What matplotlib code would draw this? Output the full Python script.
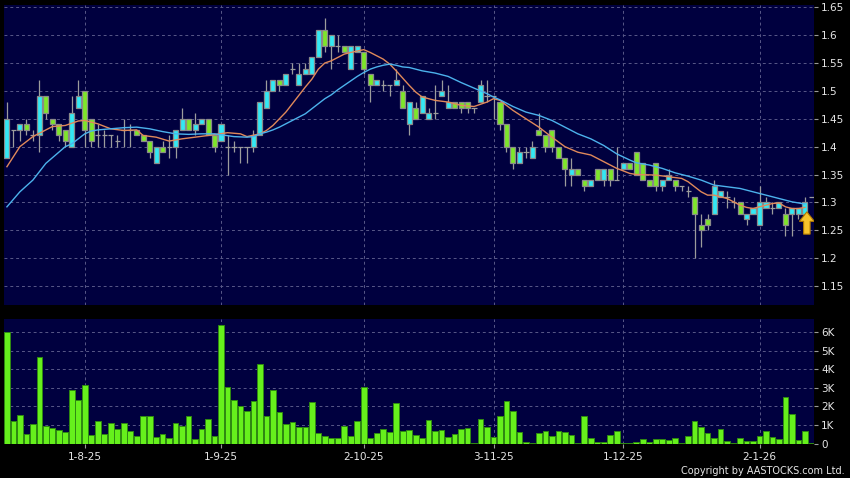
import matplotlib
matplotlib.use("Agg")
import matplotlib.pyplot as plt
from matplotlib.patches import FancyArrow
from matplotlib.ticker import FuncFormatter
import numpy as np

# ---- data (one entry per trading day) ----
opens = [1.38, 1.43, 1.43, 1.44, 1.42, 1.42, 1.49, 1.45, 1.44, 1.43,
         1.40, 1.47, 1.50, 1.45, 1.42, 1.42, 1.42, 1.41, 1.43, 1.43,
         1.43, 1.42, 1.41, 1.37, 1.40, 1.40, 1.40, 1.43, 1.45, 1.43,
         1.44, 1.45, 1.42, 1.41, 1.40, 1.40, 1.40, 1.40, 1.40, 1.42,
         1.47, 1.50, 1.52, 1.51, 1.54, 1.51, 1.53, 1.53, 1.56, 1.61,
         1.58, 1.58, 1.58, 1.54, 1.57, 1.57, 1.53, 1.51, 1.51, 1.51,
         1.51, 1.50, 1.44, 1.47, 1.46, 1.45, 1.46, 1.49, 1.47, 1.48,
         1.48, 1.48, 1.47, 1.48, 1.49, 1.49, 1.48, 1.44, 1.40, 1.37,
         1.39, 1.38, 1.43, 1.42, 1.43, 1.40, 1.38, 1.35, 1.36, 1.34,
         1.33, 1.36, 1.34, 1.36, 1.34, 1.36, 1.37, 1.39, 1.37, 1.34,
         1.37, 1.33, 1.34, 1.34, 1.33, 1.32, 1.31, 1.26, 1.27, 1.28,
         1.31, 1.31, 1.30, 1.30, 1.27, 1.28, 1.26, 1.29, 1.29, 1.29,
         1.28, 1.28, 1.28, 1.28, 1.31]
highs = [1.48, 1.43, 1.44, 1.45, 1.43, 1.52, 1.49, 1.45, 1.44, 1.43,
         1.49, 1.52, 1.50, 1.45, 1.44, 1.43, 1.42, 1.42, 1.45, 1.44,
         1.43, 1.42, 1.41, 1.40, 1.41, 1.42, 1.43, 1.47, 1.45, 1.46,
         1.45, 1.45, 1.42, 1.44, 1.42, 1.41, 1.40, 1.40, 1.43, 1.48,
         1.52, 1.52, 1.52, 1.53, 1.55, 1.55, 1.55, 1.56, 1.61, 1.63,
         1.60, 1.60, 1.58, 1.58, 1.58, 1.57, 1.53, 1.52, 1.52, 1.51,
         1.54, 1.51, 1.48, 1.48, 1.49, 1.47, 1.51, 1.52, 1.51, 1.48,
         1.48, 1.48, 1.47, 1.52, 1.52, 1.49, 1.48, 1.44, 1.40, 1.40,
         1.40, 1.41, 1.46, 1.42, 1.43, 1.40, 1.38, 1.38, 1.36, 1.34,
         1.34, 1.36, 1.36, 1.36, 1.40, 1.37, 1.37, 1.39, 1.37, 1.34,
         1.37, 1.34, 1.36, 1.34, 1.33, 1.33, 1.31, 1.28, 1.28, 1.34,
         1.32, 1.32, 1.31, 1.30, 1.28, 1.29, 1.33, 1.31, 1.30, 1.30,
         1.29, 1.29, 1.29, 1.31, 1.31]
lows = [1.38, 1.40, 1.41, 1.42, 1.41, 1.39, 1.45, 1.43, 1.41, 1.40,
        1.40, 1.47, 1.40, 1.40, 1.40, 1.40, 1.40, 1.40, 1.40, 1.40,
        1.42, 1.41, 1.38, 1.37, 1.39, 1.38, 1.38, 1.43, 1.43, 1.42,
        1.44, 1.42, 1.39, 1.41, 1.35, 1.39, 1.37, 1.37, 1.39, 1.42,
        1.47, 1.50, 1.50, 1.51, 1.53, 1.51, 1.53, 1.53, 1.56, 1.57,
        1.54, 1.57, 1.57, 1.54, 1.57, 1.53, 1.48, 1.51, 1.50, 1.49,
        1.51, 1.47, 1.42, 1.45, 1.46, 1.45, 1.45, 1.49, 1.47, 1.47,
        1.46, 1.46, 1.46, 1.48, 1.48, 1.45, 1.43, 1.39, 1.36, 1.37,
        1.38, 1.38, 1.42, 1.39, 1.39, 1.38, 1.33, 1.33, 1.35, 1.32,
        1.33, 1.34, 1.33, 1.33, 1.34, 1.36, 1.36, 1.35, 1.34, 1.33,
        1.32, 1.32, 1.34, 1.32, 1.32, 1.31, 1.20, 1.22, 1.25, 1.28,
        1.31, 1.29, 1.29, 1.28, 1.26, 1.28, 1.26, 1.29, 1.28, 1.29,
        1.24, 1.24, 1.27, 1.28, 1.31]
closes = [1.45, 1.43, 1.44, 1.43, 1.42, 1.49, 1.46, 1.44, 1.42, 1.41,
          1.46, 1.49, 1.43, 1.41, 1.42, 1.42, 1.42, 1.41, 1.43, 1.43,
          1.42, 1.41, 1.39, 1.40, 1.39, 1.40, 1.43, 1.45, 1.43, 1.44,
          1.45, 1.42, 1.40, 1.44, 1.40, 1.40, 1.40, 1.40, 1.42, 1.48,
          1.50, 1.52, 1.51, 1.53, 1.54, 1.53, 1.54, 1.56, 1.61, 1.58,
          1.60, 1.58, 1.57, 1.58, 1.58, 1.54, 1.51, 1.52, 1.51, 1.51,
          1.52, 1.47, 1.48, 1.45, 1.49, 1.46, 1.46, 1.50, 1.48, 1.47,
          1.47, 1.47, 1.47, 1.51, 1.49, 1.49, 1.44, 1.40, 1.37, 1.39,
          1.39, 1.40, 1.42, 1.40, 1.40, 1.38, 1.36, 1.36, 1.35, 1.33,
          1.34, 1.34, 1.36, 1.34, 1.34, 1.37, 1.36, 1.35, 1.34, 1.33,
          1.33, 1.34, 1.35, 1.33, 1.33, 1.32, 1.28, 1.25, 1.26, 1.33,
          1.32, 1.31, 1.30, 1.28, 1.28, 1.29, 1.30, 1.30, 1.29, 1.30,
          1.26, 1.29, 1.29, 1.30, 1.31]
# volume in thousands of shares
volumes = [6.00, 1.21, 1.55, 0.52, 1.06, 4.68, 0.97, 0.86, 0.72, 0.63,
           2.88, 2.34, 3.17, 0.47, 1.21, 0.50, 1.10, 0.76, 1.12, 0.70,
           0.41, 1.46, 1.46, 0.36, 0.52, 0.31, 1.08, 0.94, 1.48, 0.25,
           0.76, 1.33, 0.40, 6.41, 3.05, 2.34, 2.04, 1.75, 2.27, 4.27,
           1.46, 2.88, 1.68, 1.05, 1.14, 0.90, 0.88, 2.23, 0.59, 0.43,
           0.31, 0.31, 0.94, 0.40, 1.23, 3.05, 0.31, 0.56, 0.76, 0.63,
           2.16, 0.65, 0.74, 0.47, 0.32, 1.28, 0.70, 0.75, 0.35, 0.50,
           0.80, 0.85, 0.02, 1.30, 0.90, 0.35, 1.50, 2.30, 1.75, 0.60,
           0.07, 0.02, 0.55, 0.65, 0.40, 0.70, 0.60, 0.45, 0.02, 1.50,
           0.30, 0.07, 0.07, 0.45, 0.70, 0.03, 0.02, 0.07, 0.25, 0.10,
           0.25, 0.25, 0.20, 0.27, 0.02, 0.40, 1.20, 0.90, 0.55, 0.30,
           0.80, 0.15, 0.02, 0.30, 0.15, 0.15, 0.40, 0.65, 0.35, 0.25,
           2.50, 1.60, 0.20, 0.65, 0.05]

# moving averages, read at sampled days
ma_fast_day = [0, 2, 4, 7, 9, 11, 12, 14, 16, 18, 20, 21, 23, 25, 27, 29, 31,
               34, 36, 37, 39, 40, 41, 42, 43, 44, 45, 46, 47, 48, 49, 50, 51,
               52, 53, 55, 56, 57, 58, 59, 60, 61, 62, 63, 64, 66, 68, 70, 72,
               74, 75, 76, 77, 78, 80, 82, 84, 86, 88, 90, 92, 94, 96, 97, 100,
               102, 104, 105, 106, 107, 108, 109, 110, 111, 112, 113, 114, 115,
               116, 117, 118, 119, 120, 121, 122, 123]
ma_fast_val = [1.364, 1.400, 1.418, 1.436, 1.438, 1.446, 1.447, 1.441, 1.432,
               1.429, 1.430, 1.420, 1.417, 1.410, 1.414, 1.417, 1.420, 1.425,
               1.423, 1.418, 1.423, 1.429, 1.438, 1.450, 1.462, 1.477, 1.492,
               1.507, 1.521, 1.539, 1.550, 1.554, 1.560, 1.566, 1.569, 1.574,
               1.569, 1.563, 1.557, 1.548, 1.536, 1.523, 1.510, 1.498, 1.489,
               1.483, 1.480, 1.474, 1.472, 1.480, 1.486, 1.483, 1.474, 1.465,
               1.450, 1.435, 1.417, 1.400, 1.390, 1.385, 1.373, 1.361, 1.352,
               1.350, 1.349, 1.346, 1.343, 1.337, 1.328, 1.319, 1.313, 1.313,
               1.310, 1.307, 1.301, 1.295, 1.291, 1.289, 1.292, 1.295, 1.298,
               1.299, 1.292, 1.289, 1.289, 1.291]
ma_slow_day = [0, 2, 4, 5, 6, 8, 9, 10, 11, 12, 13, 14, 16, 18, 20, 22, 24, 26,
               28, 30, 32, 35, 37, 38, 39, 40, 41, 42, 43, 44, 45, 46, 47, 48,
               49, 50, 51, 52, 53, 54, 55, 56, 57, 58, 59, 60, 61, 62, 63, 64,
               66, 68, 70, 72, 74, 75, 76, 78, 80, 82, 84, 86, 88, 90, 92, 94,
               96, 97, 99, 101, 103, 105, 107, 109, 111, 113, 115, 117, 119,
               121, 123]
ma_slow_val = [1.292, 1.319, 1.340, 1.355, 1.370, 1.390, 1.400, 1.405, 1.414,
               1.423, 1.428, 1.430, 1.432, 1.434, 1.435, 1.432, 1.427, 1.423,
               1.422, 1.423, 1.423, 1.418, 1.417, 1.418, 1.423, 1.426, 1.430,
               1.435, 1.441, 1.447, 1.453, 1.459, 1.468, 1.477, 1.486, 1.493,
               1.502, 1.510, 1.518, 1.526, 1.533, 1.539, 1.543, 1.546, 1.548,
               1.546, 1.543, 1.542, 1.539, 1.536, 1.532, 1.526, 1.515, 1.505,
               1.495, 1.489, 1.484, 1.472, 1.462, 1.456, 1.447, 1.435, 1.423,
               1.414, 1.402, 1.387, 1.376, 1.371, 1.367, 1.361, 1.353, 1.347,
               1.340, 1.331, 1.328, 1.325, 1.319, 1.313, 1.307, 1.301, 1.297]

month_day = [12, 33, 55, 75, 95, 116]
month_labels = ["1-8-25", "1-9-25", "2-10-25", "3-11-25", "1-12-25", "2-1-26"]

# ---- styling ----
W, H = 850, 478
BG = "#00003f"
GRID = "#585888"
TXT = "#e6e6e6"
UP = "#33e8f4"
DOWN = "#7ee62a"
EDGE = "#8a8a8a"

opens = np.array(opens)
highs = np.array(highs)
lows = np.array(lows)
closes = np.array(closes)
days = np.arange(len(opens))

fig = plt.figure(figsize=(W / 100, H / 100), dpi=100, facecolor="black")
ax = fig.add_axes([4 / W, 1 - 305 / H, 810 / W, 300 / H])
axv = fig.add_axes([4 / W, 1 - 443.5 / H, 810 / W, 124.5 / H])

for a in (ax, axv):
    a.set_facecolor(BG)
    for s in a.spines.values():
        s.set_visible(False)
    a.set_xlim(-0.45, 124.4)
    a.set_xticks(month_day)
    a.grid(True, color=GRID, linestyle=(0, (3, 3)), linewidth=0.7)
    a.set_axisbelow(True)
    a.yaxis.tick_right()
    a.tick_params(axis="y", colors="#9a9a9a", labelcolor=TXT, length=3,
                  width=0.8, pad=2, labelsize=7.5)

# price panel
ax.set_ylim(1.1159, 1.6541)
ax.set_yticks(np.arange(1.15, 1.651, 0.05))
ax.yaxis.set_major_formatter(FuncFormatter(lambda v, p: "%g" % round(v, 2)))
ax.tick_params(axis="x", length=0, labelbottom=False)

ax.vlines(days, lows, highs, color="#9c9c9c", linewidth=0.9, zorder=2)
up = closes > opens
down = closes < opens
flat = closes == opens
ax.bar(days[up], (closes - opens)[up], bottom=opens[up], width=0.78,
       color=UP, edgecolor=EDGE, linewidth=0.9, zorder=3)
ax.bar(days[down], (opens - closes)[down], bottom=closes[down], width=0.78,
       color=DOWN, edgecolor=EDGE, linewidth=0.9, zorder=3)
ax.hlines(closes[flat], days[flat] - 0.4, days[flat] + 0.4, color="#9c9c9c",
          linewidth=0.9, zorder=3)

ax.plot(ma_fast_day, ma_fast_val, color="#e0895a", linewidth=1.0, zorder=4)
ax.plot(ma_slow_day, ma_slow_val, color="#4cb2ec", linewidth=1.0, zorder=4)

# marker arrow under the latest full candle
last = days[-2]
tip = lows[-2] + 0.003
arrow = FancyArrow(last + 0.3, tip - 0.04, 0, 0.04, width=1.0, head_width=2.3,
                   head_length=0.017, length_includes_head=True,
                   facecolor="#f7c42c", edgecolor="#b07800", linewidth=0.8,
                   zorder=5)
ax.add_patch(arrow)

# volume panel
axv.set_ylim(0, 6.72)
axv.set_yticks(range(0, 7))
axv.set_yticklabels(["0"] + ["%dK" % k for k in range(1, 7)])
axv.bar(days, volumes, width=0.88, color="#66f01c", edgecolor="#2f8a12",
        linewidth=0.7, zorder=3)
axv.set_xticklabels(month_labels)
axv.tick_params(axis="x", colors="#9a9a9a", labelcolor=TXT, length=3,
                width=0.8, pad=3, labelsize=7.5)

fig.text(845 / W, 1 - 471 / H, "Copyright by AASTOCKS.com Ltd.", ha="right",
         va="center", fontsize=7, color=TXT)

fig.savefig("out.png", dpi=100, facecolor="black")
